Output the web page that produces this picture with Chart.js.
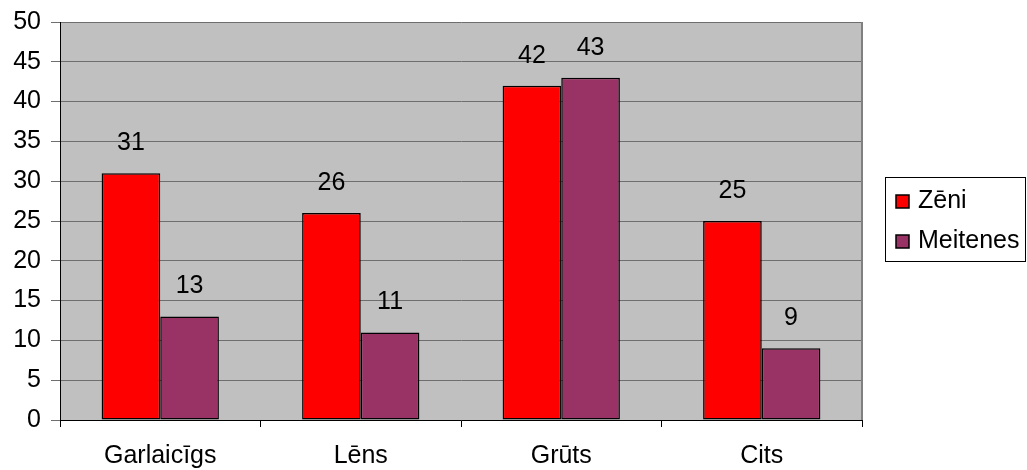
<!DOCTYPE html>
<html>
<head>
<meta charset="utf-8">
<script src="https://cdn.jsdelivr.net/npm/chart.js@4/dist/chart.umd.min.js"></script>
<style>
  html, body { margin: 0; padding: 0; background: #fff; }
  #wrap { width: 1027px; height: 470px; position: relative; }
</style>
</head>
<body>
<div id="wrap"><canvas id="c" width="1027" height="470"></canvas></div>
<script>
const categories = ['Garlaicīgs', 'Lēns', 'Grūts', 'Cits'];
const zeni = [31, 26, 42, 25];
const meitenes = [13, 11, 43, 9];
const seriesNames = ['Zēni', 'Meitenes'];
const seriesColors = ['#FF0000', '#993366'];

const FONT = '"Liberation Sans", Arial, sans-serif';
const FONT_SIZE = 25;

// Grey plot background plus right-hand frame line
const plotBackground = {
  id: 'plotBackground',
  beforeDraw(chart) {
    const { ctx, chartArea: a } = chart;
    ctx.save();
    ctx.fillStyle = '#C0C0C0';
    ctx.fillRect(a.left, a.top, a.right - a.left, a.bottom - a.top);
    ctx.restore();
  },
  afterDraw(chart) {
    const { ctx, chartArea: a } = chart;
    ctx.save();
    ctx.strokeStyle = '#808080';
    ctx.lineWidth = 2;
    ctx.beginPath();
    ctx.moveTo(a.right, a.top);
    ctx.lineTo(a.right, a.bottom);
    ctx.stroke();
    ctx.restore();
  }
};

// Value labels above each bar
const valueLabels = {
  id: 'valueLabels',
  afterDatasetsDraw(chart) {
    const { ctx } = chart;
    ctx.save();
    ctx.fillStyle = '#000';
    ctx.font = FONT_SIZE + 'px ' + FONT;
    ctx.textAlign = 'center';
    ctx.textBaseline = 'middle';
    chart.data.datasets.forEach((ds, i) => {
      chart.getDatasetMeta(i).data.forEach((bar, j) => {
        ctx.fillText(String(ds.data[j]), bar.x, bar.y - 30);
      });
    });
    ctx.restore();
  }
};

// Boxed legend on the right
const boxLegend = {
  id: 'boxLegend',
  afterDraw(chart) {
    const { ctx } = chart;
    const x = 885.5, y = 177.5, w = 140, h = 84;
    ctx.save();
    ctx.fillStyle = '#fff';
    ctx.fillRect(x, y, w, h);
    ctx.strokeStyle = '#000';
    ctx.lineWidth = 1;
    ctx.strokeRect(x, y, w, h);
    ctx.font = FONT_SIZE + 'px ' + FONT;
    ctx.textBaseline = 'middle';
    chart.data.datasets.forEach((ds, i) => {
      const cy = 201 + i * 40;
      ctx.fillStyle = ds.backgroundColor;
      ctx.fillRect(896, cy - 6, 13, 13);
      ctx.strokeStyle = '#000';
      ctx.lineWidth = 1.5;
      ctx.strokeRect(896, cy - 6, 13, 13);
      ctx.fillStyle = '#000';
      ctx.fillText(ds.label, 918, cy);
    });
    ctx.restore();
  }
};

new Chart(document.getElementById('c'), {
  type: 'bar',
  data: {
    labels: categories,
    datasets: [
      { label: seriesNames[0], data: zeni, backgroundColor: seriesColors[0] },
      { label: seriesNames[1], data: meitenes, backgroundColor: seriesColors[1] }
    ]
  },
  options: {
    responsive: false,
    animation: false,
    devicePixelRatio: 1,
    layout: { padding: { left: 0, right: 165, top: 22, bottom: 0 } },
    datasets: {
      bar: {
        categoryPercentage: 0.585,
        barPercentage: 1,
        borderColor: '#000',
        borderWidth: 1.5,
        borderSkipped: false
      }
    },
    plugins: {
      legend: { display: false },
      tooltip: { enabled: false }
    },
    scales: {
      x: {
        afterFit(s) { s.height = 50; s.paddingLeft = 0; s.paddingRight = 0; },
        grid: {
          offset: true,
          drawOnChartArea: false,
          drawTicks: true,
          tickLength: 7,
          color: '#000'
        },
        border: { color: '#000', width: 1 },
        ticks: {
          color: '#000',
          font: { family: FONT, size: FONT_SIZE },
          padding: 14,
          maxRotation: 0
        }
      },
      y: {
        min: 0,
        max: 50,
        afterFit(s) { s.width = 60; s.paddingTop = 0; s.paddingBottom = 0; },
        grid: {
          color: '#6e6e6e',
          lineWidth: 1,
          tickLength: 9
        },
        border: { color: '#000', width: 1 },
        ticks: {
          stepSize: 5,
          color: '#000',
          font: { family: FONT, size: FONT_SIZE },
          padding: 10
        }
      }
    }
  },
  plugins: [plotBackground, valueLabels, boxLegend]
});
</script>
</body>
</html>
